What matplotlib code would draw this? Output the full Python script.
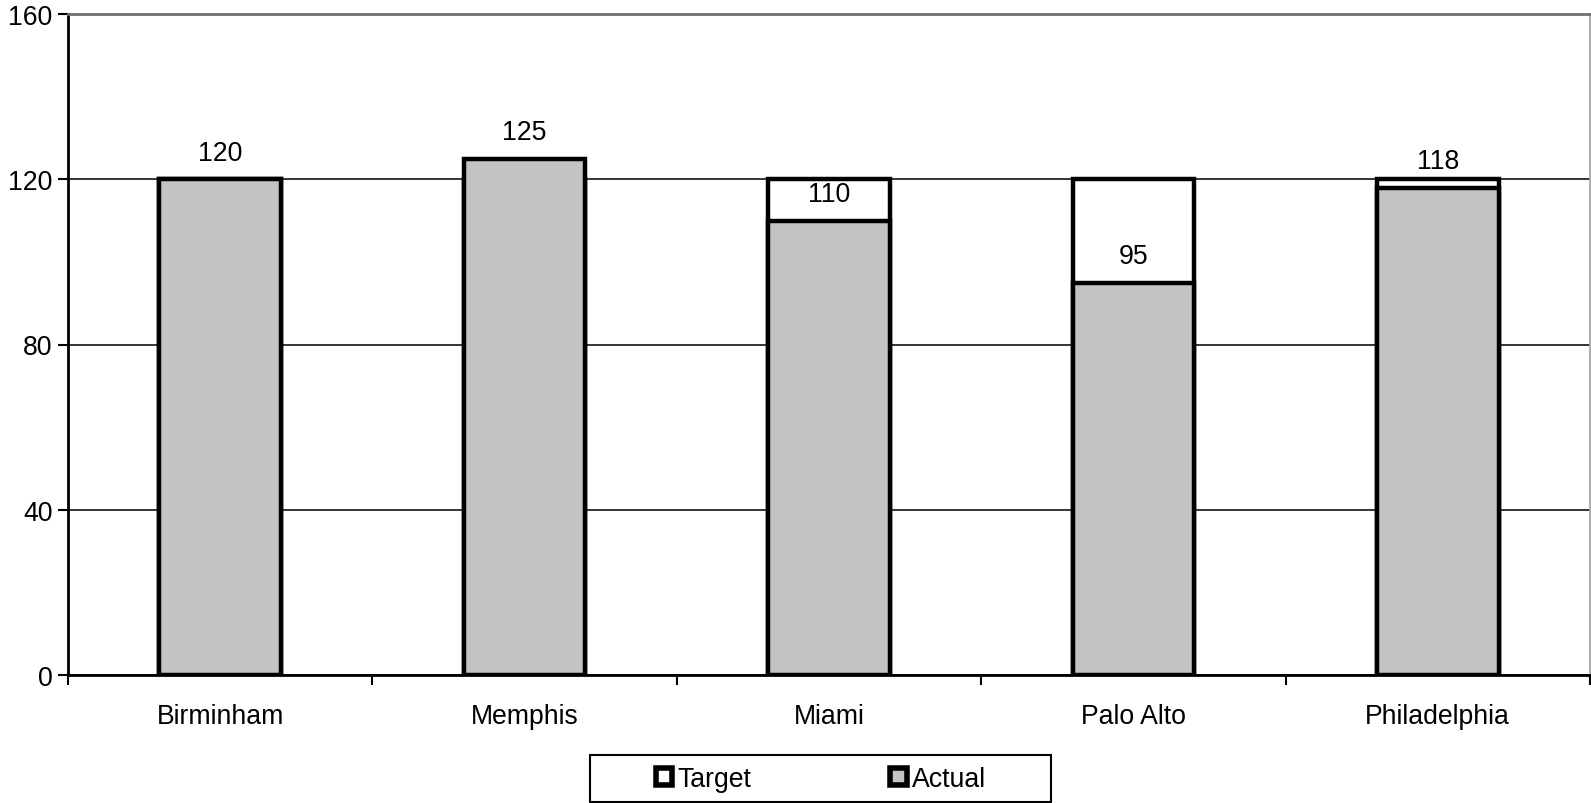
import matplotlib
matplotlib.use("Agg")
import matplotlib.pyplot as plt
from matplotlib.patches import Rectangle, Patch

categories = ["Birminham", "Memphis", "Miami", "Palo Alto", "Philadelphia"]
target = [120, 120, 120, 120, 120]
actual = [120, 125, 110, 95, 118]
yticks = [0, 40, 80, 120, 160]

plt.rcParams['font.family'] = ['Liberation Sans', 'DejaVu Sans']
FS = 19.2

fig = plt.figure(figsize=(15.91, 8.04), dpi=100)
ax = fig.add_axes([68/1591, 1-676/804, (1590-68)/1591, (676-15)/804])

x = list(range(len(categories)))
w = 0.4
ax.set_axisbelow(True)
ax.yaxis.grid(True, color='black', linewidth=1.1)
ax.bar(x, target, width=w, facecolor='white', edgecolor='black', linewidth=3.2, zorder=2)
ax.bar(x, actual, width=w, facecolor='#c3c3c3', edgecolor='black', linewidth=3.2, zorder=3)

for xi, v in zip(x, actual):
    ax.annotate(str(v), (xi, v), xytext=(0, 19), textcoords='offset points',
                ha='center', va='center', fontsize=FS, zorder=5)

ax.set_xlim(-0.5, len(categories) - 0.5)
ax.set_ylim(0, 160)
ax.set_yticks(yticks)
ax.set_yticklabels([str(t) for t in yticks], fontsize=FS)
ax.set_xticks(x)
ax.set_xticklabels(categories, fontsize=FS)
ax.set_xticks([i - 0.5 for i in range(len(categories) + 1)], minor=True)
ax.tick_params(axis='x', which='major', length=0, pad=20.5)
ax.tick_params(axis='x', which='minor', length=7, width=1.5, color='black', direction='out')
ax.tick_params(axis='y', length=7, width=1.5, color='black', pad=4)

for s in ['left', 'bottom']:
    ax.spines[s].set_linewidth(2)
    ax.spines[s].set_color('black')
ax.spines['top'].set_color('#707070')
ax.spines['top'].set_linewidth(2)
ax.spines['right'].set_color('#a0a0a0')
ax.spines['right'].set_linewidth(1.2)

# legend box
fig.patches.append(Rectangle((590/1591, 1-803/804), (1051-590)/1591, (803-756)/804,
                             transform=fig.transFigure, facecolor='white',
                             edgecolor='black', linewidth=1.5, zorder=1))
handles = [Patch(facecolor='white', edgecolor='black', linewidth=4, label='Target'),
           Patch(facecolor='#c3c3c3', edgecolor='black', linewidth=4, label='Actual')]
leg = fig.legend(handles=handles, ncol=2, loc='center', bbox_to_anchor=(821/1591, 1-780/804),
                 frameon=False, fontsize=FS, handlelength=0.62, handleheight=0.62,
                 handletextpad=0.2, columnspacing=5.2)

fig.savefig('out.png', dpi=100)
